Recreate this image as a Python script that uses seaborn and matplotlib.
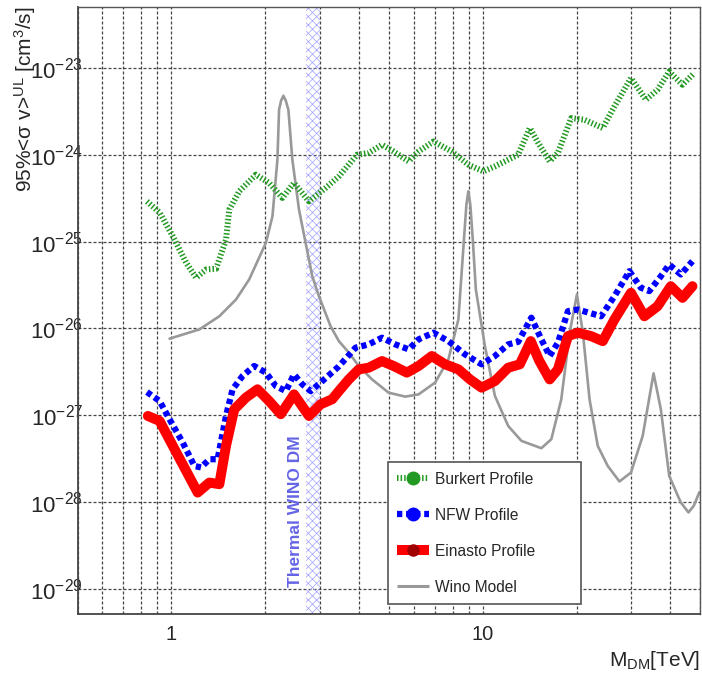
import matplotlib
matplotlib.use("Agg")
import matplotlib.pyplot as plt
import matplotlib.ticker as mticker
from matplotlib.lines import Line2D
import pandas as pd
import seaborn as sns

# ---------------- data ----------------
burkert_x = [0.835, 0.917, 1.011, 1.116, 1.201, 1.293, 1.392, 1.498, 1.535, 1.652,
             1.868, 2.061, 2.273, 2.477, 2.767, 3.129, 3.451, 3.949, 4.303, 4.747,
             5.173, 5.78, 6.22, 6.95, 7.95, 8.99, 10.04, 10.94, 12.99, 14.16,
             15.06, 16.40, 17.43, 19.23, 21.22, 24.28, 26.46, 29.92, 33.41, 36.41,
             39.68, 43.78, 47.7]
burkert_y = [2.90e-25, 2.16e-25, 1.15e-25, 5.69e-26, 3.83e-26, 4.77e-26, 4.86e-26, 1.05e-25, 2.33e-25, 3.79e-25,
             5.89e-25, 4.73e-25, 3.18e-25, 4.73e-25, 2.90e-25, 4.14e-25, 5.63e-25, 1.00e-24, 1.05e-24, 1.30e-24,
             1.09e-24, 8.38e-25, 1.09e-24, 1.42e-24, 1.09e-24, 7.67e-25, 6.43e-25, 7.34e-25, 1.00e-24, 2.03e-24,
             1.37e-24, 8.38e-25, 1.05e-24, 2.64e-24, 2.52e-24, 2.03e-24, 3.59e-24, 7.62e-24, 4.29e-24, 5.59e-24,
             9.07e-24, 6.38e-24, 8.69e-24]

nfw_x = [0.835, 0.917, 0.987, 1.088, 1.186, 1.246, 1.325, 1.408, 1.498, 1.573,
         1.693, 1.845, 2.012, 2.165, 2.331, 2.477, 2.634, 2.802, 3.016, 3.451,
         3.903, 4.303, 4.747, 5.238, 5.778, 6.220, 6.946, 7.757, 8.773, 9.913,
         10.94, 12.07, 12.99, 14.32, 15.42, 16.40, 17.43, 18.77, 20.20, 23.99,
         26.48, 29.56, 32.19, 34.25, 37.31, 39.69, 43.23, 47.12]
nfw_y = [1.85e-27, 1.46e-27, 8.99e-28, 4.85e-28, 2.61e-28, 2.51e-28, 3.12e-28, 3.12e-28, 9.82e-28, 1.99e-27,
         2.83e-27, 3.69e-27, 3.10e-27, 2.17e-27, 1.90e-27, 2.96e-27, 2.27e-27, 1.90e-27, 2.38e-27, 3.66e-27,
         6.00e-27, 6.55e-27, 7.82e-27, 6.55e-27, 5.74e-27, 7.48e-27, 8.93e-27, 7.14e-27, 5.02e-27, 3.86e-27,
         4.81e-27, 6.55e-27, 7.00e-27, 1.33e-26, 7.48e-27, 4.81e-27, 6.85e-27, 1.58e-26, 1.65e-26, 1.38e-26,
         2.35e-26, 4.56e-26, 2.94e-26, 2.69e-26, 3.99e-26, 5.44e-26, 4.18e-26, 5.94e-26]

einasto_x = [0.841, 0.917, 1.011, 1.116, 1.215, 1.325, 1.426, 1.498, 1.592, 1.736,
             1.891, 2.061, 2.246, 2.477, 2.767, 3.016, 3.285, 3.451, 3.715, 3.999,
             4.303, 4.747, 5.173, 5.705, 6.220, 6.860, 7.570, 8.351, 9.100, 9.913,
             10.94, 12.07, 13.15, 14.26, 15.16, 16.40, 17.43, 18.77, 20.20, 22.28,
             24.28, 26.48, 29.91, 33.02, 36.41, 40.16, 43.78, 47.12]
einasto_y = [9.82e-28, 8.60e-28, 4.44e-28, 2.29e-28, 1.29e-28, 1.68e-28, 1.61e-28, 4.44e-28, 1.17e-27, 1.60e-27,
             1.99e-27, 1.46e-27, 1.03e-27, 1.74e-27, 9.82e-28, 1.34e-27, 1.53e-27, 1.90e-27, 2.59e-27, 3.38e-27,
             3.53e-27, 4.21e-27, 3.69e-27, 3.10e-27, 3.69e-27, 4.81e-27, 3.86e-27, 3.38e-27, 2.59e-27, 2.08e-27,
             2.48e-27, 3.53e-27, 3.86e-27, 7.14e-27, 4.29e-27, 2.59e-27, 3.38e-27, 8.15e-27, 8.93e-27, 8.15e-27,
             7.14e-27, 1.27e-26, 2.57e-26, 1.38e-26, 1.80e-26, 3.06e-26, 2.25e-26, 3.06e-26]

wino_x = [0.987, 1.231, 1.426, 1.613, 1.778, 2.012, 2.112, 2.191, 2.218, 2.251,
          2.290, 2.331, 2.376, 2.447, 2.570, 2.835, 2.978, 3.246, 3.451, 3.715,
          3.999, 4.410, 4.987, 5.640, 6.220, 7.032, 7.757, 8.351, 8.70, 8.86,
          8.99, 9.12, 9.29, 9.50, 10.16, 10.94, 12.07, 13.31, 15.42, 16.60,
          17.87, 19.01, 20.06, 20.96, 22.02, 23.40, 25.19, 27.47, 29.91, 32.62,
          35.35, 37.31, 39.69, 43.23, 45.75, 47.58, 49.6]
wino_y = [7.62e-27, 9.75e-27, 1.38e-26, 2.15e-26, 3.66e-26, 9.66e-26, 1.95e-25, 8.77e-25, 3.29e-24, 4.18e-24,
          4.77e-24, 4.18e-24, 3.29e-24, 8.77e-25, 2.33e-25, 3.99e-26, 2.35e-26, 1.06e-26, 7.14e-27, 5.26e-27,
          3.69e-27, 2.59e-27, 1.82e-27, 1.64e-27, 1.74e-27, 2.38e-27, 4.40e-27, 1.27e-26, 1.05e-25, 2.66e-25,
          3.79e-25, 2.66e-25, 1.05e-25, 2.81e-26, 6.26e-27, 1.67e-27, 7.53e-28, 5.07e-28, 4.18e-28, 5.30e-28,
          1.53e-27, 8.93e-27, 2.46e-26, 8.93e-27, 1.53e-27, 4.44e-28, 2.61e-28, 1.73e-28, 2.19e-28, 5.78e-28,
          3.04e-27, 1.17e-27, 2.00e-28, 9.93e-29, 7.62e-29, 9.06e-29, 1.30e-28]

band_range = [2.7, 3.0]
band_label = "Thermal WINO DM"
x_tick_values = [1, 10]
x_tick_labels = ["1", "10"]
y_tick_values = [1e-29, 1e-28, 1e-27, 1e-26, 1e-25, 1e-24, 1e-23]
y_tick_labels = ["$10^{-29}$", "$10^{-28}$", "$10^{-27}$", "$10^{-26}$",
                 "$10^{-25}$", "$10^{-24}$", "$10^{-23}$"]
series_labels = ["Burkert Profile", "NFW Profile", "Einasto Profile", "Wino Model"]

# ---------------- style ----------------
sns.set_style("white")
plt.rcParams["font.family"] = ["Liberation Sans", "DejaVu Sans"]
plt.rcParams["mathtext.fontset"] = "custom"
plt.rcParams["mathtext.rm"] = "Liberation Sans"
plt.rcParams["mathtext.it"] = "Liberation Sans:italic"
plt.rcParams["mathtext.bf"] = "Liberation Sans:bold"
plt.rcParams["mathtext.default"] = "regular"
plt.rcParams["hatch.linewidth"] = 0.5
plt.rcParams["hatch.color"] = "#a0a0ff"

GREEN = "#229922"
BLUE = "#0000ff"
RED = "#ff0000"
GRAY = "#999999"

fig = plt.figure(figsize=(7.02, 6.75), dpi=100)
ax = fig.add_axes([0.1105, 0.0904, 0.8873, 0.8993])
ax.set_xscale("log")
ax.set_yscale("log")

# hatched thermal-wino band
ax.axvspan(band_range[0], band_range[1], facecolor="none", edgecolor="#a0a0ff",
           hatch="xxxx", lw=0, zorder=1)

df_w = pd.DataFrame({"x": wino_x, "y": wino_y})
df_b = pd.DataFrame({"x": burkert_x, "y": burkert_y})
df_n = pd.DataFrame({"x": nfw_x, "y": nfw_y})
df_e = pd.DataFrame({"x": einasto_x, "y": einasto_y})

green_ls = (0, (0.25, 0.35))
blue_ls = (0, (0.85, 0.6))

sns.lineplot(data=df_w, x="x", y="y", ax=ax, color=GRAY, lw=1.9, estimator=None,
             sort=False, legend=False, zorder=2)
sns.lineplot(data=df_b, x="x", y="y", ax=ax, color=GREEN, lw=4.3, linestyle=green_ls,
             dash_capstyle="butt", estimator=None, sort=False, legend=False, zorder=3)
sns.lineplot(data=df_n, x="x", y="y", ax=ax, color=BLUE, lw=4.5, linestyle=blue_ls,
             dash_capstyle="butt", estimator=None, sort=False, legend=False, zorder=3)
sns.lineplot(data=df_e, x="x", y="y", ax=ax, color=RED, lw=7.2, solid_capstyle="round",
             solid_joinstyle="round", estimator=None, sort=False, legend=False, zorder=4)
ax.set_xlabel("")
ax.set_ylabel("")

ax.text(2.50, 7.9e-29, band_label, rotation=90, ha="center", va="center",
        fontsize=12.5, fontweight="bold", color="#6464e6", zorder=5)

ax.set_xlim(0.5, 50)
ax.set_ylim(5.16e-30, 5.02e-23)

# ticks
ax.xaxis.set_major_locator(mticker.FixedLocator(x_tick_values))
ax.xaxis.set_major_formatter(mticker.FixedFormatter(x_tick_labels))
ax.xaxis.set_minor_locator(mticker.LogLocator(base=10, subs=[2, 3, 4, 5, 6, 7, 8, 9], numticks=20))
ax.xaxis.set_minor_formatter(mticker.NullFormatter())
ax.yaxis.set_major_locator(mticker.FixedLocator(y_tick_values))
ax.yaxis.set_major_formatter(mticker.FixedFormatter(y_tick_labels))
ax.yaxis.set_minor_locator(mticker.LogLocator(base=10, subs=[2, 3, 4, 5, 6, 7, 8, 9], numticks=20))
ax.yaxis.set_minor_formatter(mticker.NullFormatter())

ax.tick_params(which="both", direction="in", top=False, right=False, color="#333333", width=1)
ax.tick_params(which="major", length=15)
ax.tick_params(which="minor", length=8)
ax.tick_params(axis="y", which="major", labelsize=16, pad=-4)
ax.tick_params(axis="x", which="major", labelsize=14.5, pad=8)

ax.grid(True, axis="x", which="both", color="#444444", lw=0.9, linestyle=(0, (2.4, 1.6)), zorder=0)
ax.grid(True, axis="y", which="major", color="#444444", lw=0.9, linestyle=(0, (2.4, 1.6)), zorder=0)
ax.set_axisbelow(True)

for side in ["left", "bottom"]:
    ax.spines[side].set_color("#444444")
    ax.spines[side].set_linewidth(1.3)
for side in ["top", "right"]:
    ax.spines[side].set_color("#555555")
    ax.spines[side].set_linewidth(1.0)

# legend
handles = [
    Line2D([], [], color=GREEN, lw=4.3, linestyle=green_ls, dash_capstyle="butt",
           marker="o", markersize=9, markerfacecolor=GREEN, markeredgecolor=GREEN),
    Line2D([], [], color=BLUE, lw=4.5, linestyle=blue_ls, dash_capstyle="butt",
           marker="o", markersize=9, markerfacecolor=BLUE, markeredgecolor=BLUE),
    Line2D([], [], color=RED, lw=7.2, solid_capstyle="butt", marker="o", markersize=8,
           markerfacecolor="#a00000", markeredgecolor="#a00000"),
    Line2D([], [], color=GRAY, lw=2.2, solid_capstyle="butt"),
]
leg = ax.legend(handles, series_labels, loc="lower left",
                bbox_to_anchor=(0.498, 0.0165, 0.3095, 0.2485), mode="expand",
                borderaxespad=0, fontsize=11.2, frameon=True, fancybox=False,
                framealpha=1, edgecolor="#555555", borderpad=0.6,
                labelspacing=1.35, handlelength=2.05, handletextpad=0.4,
                numpoints=1)
leg.get_frame().set_linewidth(1.2)
leg.set_zorder(10)

# axis titles
fig.text(0.036, 0.99, "95%<σ v>$^{UL}$ [cm$^{3}$/s]", rotation=90,
         ha="center", va="top", fontsize=15)
fig.text(0.997, 0.022, "M$_{DM}$[TeV]", ha="right", va="center", fontsize=15)

fig.savefig("out.png", dpi=100)
